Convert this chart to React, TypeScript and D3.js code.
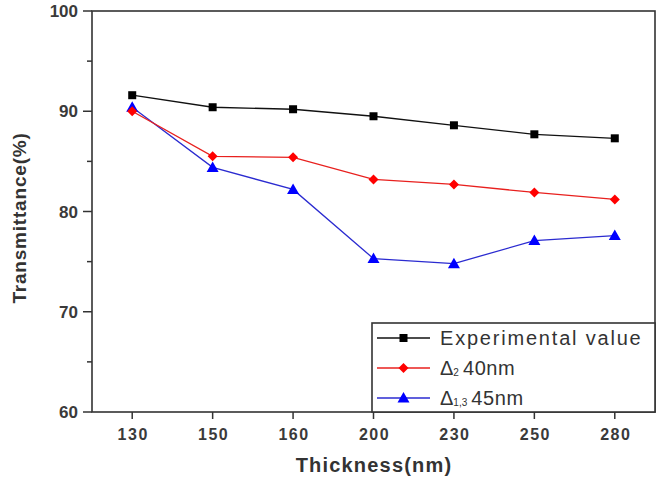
import React, { useEffect, useRef } from "react";
import * as d3 from "d3";

// thickness categories (nm) and transmittance values (%)
const thickness = ["130", "150", "160", "200", "230", "250", "280"];
const experimental = [91.6, 90.4, 90.2, 89.5, 88.6, 87.7, 87.3];
const delta2 = [90.0, 85.5, 85.4, 83.2, 82.7, 81.9, 81.2];
const delta13 = [90.4, 84.4, 82.2, 75.3, 74.8, 77.1, 77.6];
const yTicks = [60, 70, 80, 90, 100];
const yMinorTicks = [65, 75, 85, 95];

const series = [
  { name: "Experimental value", values: experimental, color: "#000000", line: "#111111", marker: "square" },
  { name: "delta2", values: delta2, color: "#ff0000", line: "#e8201e", marker: "diamond" },
  { name: "delta13", values: delta13, color: "#0000ff", line: "#2b2bd0", marker: "triangle" },
];

const FONT = "'Liberation Sans', Arial, sans-serif";

function App() {
  const ref = useRef<SVGSVGElement>(null);

  useEffect(() => {
    const svg = d3.select(ref.current);
    svg.selectAll("*").remove();

    const left = 92, right = 655, top = 11, bottom = 412;

    const x = d3.scalePoint<string>().domain(thickness).range([left, right]).padding(0.5);
    const y = d3.scaleLinear().domain([60, 100]).range([bottom, top]);

    const axisColor = "#333333";

    // frame
    svg.append("rect")
      .attr("x", left).attr("y", top)
      .attr("width", right - left).attr("height", bottom - top)
      .attr("fill", "none").attr("stroke", axisColor).attr("stroke-width", 1.6);

    // y axis ticks
    const yAxis = svg.append("g").attr("transform", `translate(${left},0)`);
    yAxis.selectAll("line.major").data(yTicks).join("line")
      .attr("class", "major")
      .attr("x1", -9).attr("x2", 0)
      .attr("y1", (d) => y(d)).attr("y2", (d) => y(d))
      .attr("stroke", axisColor).attr("stroke-width", 1.5);
    yAxis.selectAll("line.minor").data(yMinorTicks).join("line")
      .attr("class", "minor")
      .attr("x1", -5).attr("x2", 0)
      .attr("y1", (d) => y(d)).attr("y2", (d) => y(d))
      .attr("stroke", axisColor).attr("stroke-width", 1.5);
    yAxis.selectAll("text").data(yTicks).join("text")
      .attr("x", -14).attr("y", (d) => y(d) + 6)
      .attr("text-anchor", "end")
      .attr("font-family", FONT).attr("font-weight", "bold").attr("font-size", 17)
      .attr("fill", "#3a3a3a")
      .text((d) => d);

    // x axis ticks
    const xAxis = svg.append("g").attr("transform", `translate(0,${bottom})`);
    xAxis.selectAll("line").data(thickness).join("line")
      .attr("x1", (d) => x(d)!).attr("x2", (d) => x(d)!)
      .attr("y1", 0).attr("y2", 7)
      .attr("stroke", axisColor).attr("stroke-width", 1.5);
    xAxis.selectAll("text").data(thickness).join("text")
      .attr("x", (d) => x(d)! + 1).attr("y", 28)
      .attr("text-anchor", "middle")
      .attr("font-family", FONT).attr("font-weight", "bold").attr("font-size", 16)
      .attr("letter-spacing", 1.5)
      .attr("fill", "#3a3a3a")
      .text((d) => d);

    // axis titles
    svg.append("text")
      .attr("x", 374).attr("y", 472)
      .attr("text-anchor", "middle")
      .attr("font-family", FONT).attr("font-weight", "bold").attr("font-size", 20)
      .attr("letter-spacing", 1.2)
      .attr("fill", "#333")
      .text("Thickness(nm)");
    svg.append("text")
      .attr("transform", `translate(26,218) rotate(-90)`)
      .attr("text-anchor", "middle")
      .attr("font-family", FONT).attr("font-weight", "bold").attr("font-size", 19)
      .attr("letter-spacing", 0.8)
      .attr("fill", "#333")
      .text("Transmittance(%)");

    const drawMarker = (g: d3.Selection<any, any, any, any>, kind: string, cx: number, cy: number, color: string) => {
      if (kind === "square") {
        g.append("rect").attr("x", cx - 4).attr("y", cy - 4).attr("width", 8).attr("height", 8).attr("fill", color);
      } else if (kind === "diamond") {
        g.append("path")
          .attr("d", `M${cx},${cy - 5}L${cx + 5},${cy}L${cx},${cy + 5}L${cx - 5},${cy}Z`)
          .attr("fill", color);
      } else {
        g.append("path")
          .attr("d", `M${cx},${cy - 6}L${cx + 6},${cy + 4.5}L${cx - 6},${cy + 4.5}Z`)
          .attr("fill", color);
      }
    };

    const line = d3.line<number>()
      .x((_, i) => x(thickness[i])!)
      .y((d) => y(d));

    // series, drawn blue first so black sits on top
    [...series].reverse().forEach((s) => {
      svg.append("path")
        .datum(s.values)
        .attr("d", line)
        .attr("fill", "none")
        .attr("stroke", s.line)
        .attr("stroke-width", 1.3);
      const g = svg.append("g");
      s.values.forEach((v, i) => drawMarker(g, s.marker, x(thickness[i])!, y(v), s.color));
    });

    // legend
    const lg = svg.append("g");
    lg.append("rect")
      .attr("x", 372).attr("y", 323)
      .attr("width", right - 372).attr("height", bottom - 323)
      .attr("fill", "white").attr("stroke", axisColor).attr("stroke-width", 1.6);
    const rows = [338, 368, 398];
    series.forEach((s, i) => {
      const ry = rows[i];
      lg.append("line")
        .attr("x1", 377).attr("x2", 430).attr("y1", ry).attr("y2", ry)
        .attr("stroke", s.line).attr("stroke-width", 1.3);
      drawMarker(lg, s.marker, 403.5, ry, s.color);
      const t = lg.append("text")
        .attr("x", 440).attr("y", ry + 7)
        .attr("font-family", FONT).attr("font-size", 20)
        .attr("fill", "#333");
      if (i === 0) {
        t.attr("letter-spacing", 1.8).text("Experimental value");
      } else {
        t.append("tspan").text("\u0394");
        t.append("tspan").attr("font-size", 10).attr("dy", 1).text(i === 1 ? "2" : "1,3");
        t.append("tspan").attr("dy", -1).attr("dx", 4).attr("letter-spacing", 0.6).text(i === 1 ? "40nm" : "45nm");
      }
    });
  }, []);

  return (
    <svg ref={ref} width={665} height={481} style={{ position: "absolute", left: 0, top: 0, background: "white" }} />
  );
}

export default App;
